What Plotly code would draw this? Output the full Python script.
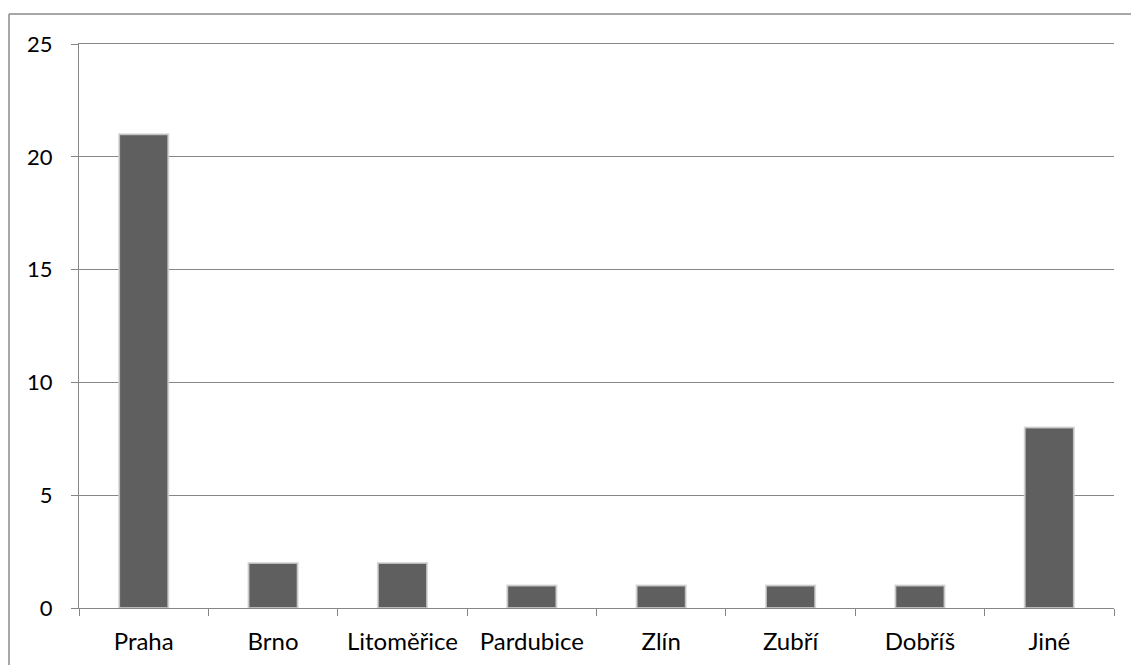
import plotly.graph_objects as go

# Počet podle města
mesta = ["Praha", "Brno", "Litoměřice", "Pardubice", "Zlín", "Zubří", "Dobříš", "Jiné"]
pocty = [21, 2, 2, 1, 1, 1, 1, 8]
y_ticks = [0, 5, 10, 15, 20, 25]

W, H = 1131, 665
L, R, T, B = 79, 17, 44, 57
pw, ph = W - L - R, H - T - B

grid = "#868686"

fig = go.Figure(
    go.Bar(
        x=mesta,
        y=pocty,
        marker=dict(color="#5f5f5f", line=dict(color="rgba(210,210,210,0.8)", width=2)),
        hoverinfo="x+y",
    )
)

# outer frame of the chart area (left and top edges)
fx = (9 - L) / pw
fy = 1 + (T - 14) / ph
fig.add_shape(type="line", xref="paper", yref="paper", x0=fx, x1=fx, y0=-1, y1=fy,
              line=dict(color="#8a8a8a", width=1.5))
fig.add_shape(type="line", xref="paper", yref="paper", x0=fx, x1=2, y0=fy, y1=fy,
              line=dict(color="#8a8a8a", width=1.5))

fig.update_layout(
    width=W,
    height=H,
    margin=dict(l=L, r=R, t=T, b=B, pad=0),
    paper_bgcolor="white",
    plot_bgcolor="white",
    bargap=0.62,
    showlegend=False,
    font=dict(family="Lato, sans-serif", size=24, color="#000000"),
)
fig.update_xaxes(
    automargin=False,
    showgrid=False,
    showline=True,
    mirror=True,
    linecolor=grid,
    linewidth=1,
    ticks="outside",
    tickson="boundaries",
    ticklen=7,
    tickcolor=grid,
    ticklabelstandoff=12,
)
fig.update_yaxes(
    automargin=False,
    range=[0, 25],
    tickvals=y_ticks,
    tickfont=dict(size=22),
    showgrid=True,
    gridcolor=grid,
    gridwidth=1,
    zeroline=False,
    showline=True,
    linecolor=grid,
    linewidth=1,
    ticks="outside",
    ticklen=7,
    tickcolor=grid,
    ticklabelstandoff=14,
)

fig.write_html("out.html")
